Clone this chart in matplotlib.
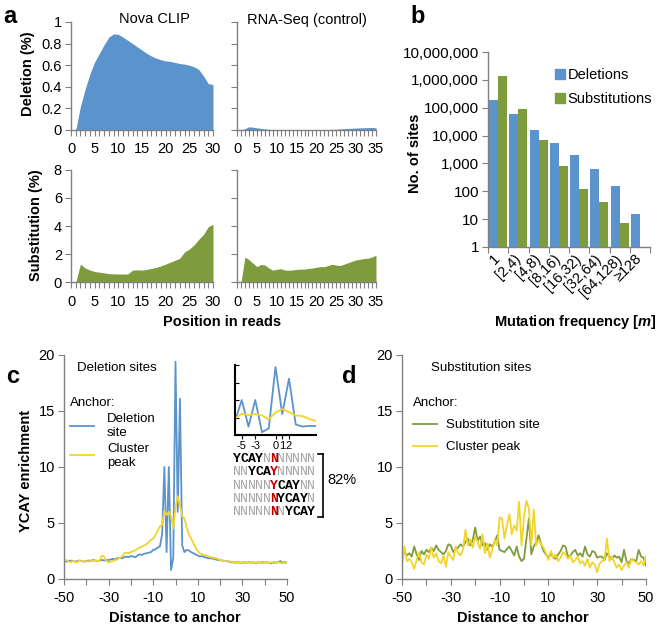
import numpy as np
import matplotlib.pyplot as plt
from matplotlib.lines import Line2D
from matplotlib.patches import Patch
from matplotlib.ticker import MultipleLocator, FixedLocator, FuncFormatter, NullLocator

plt.rcParams['font.family'] = ['Liberation Sans', 'DejaVu Sans']
plt.rcParams['axes.unicode_minus'] = False
plt.rcParams['mathtext.fontset'] = 'custom'
plt.rcParams['mathtext.it'] = 'Liberation Sans:bold:italic'
plt.rcParams['mathtext.rm'] = 'Liberation Sans:bold'

# panel a: mutation rate along the read
nova_pos = list(range(1, 31))
nova_del = [0, 0.22, 0.38, 0.52, 0.63, 0.71, 0.79, 0.86, 0.89, 0.885,
            0.86, 0.83, 0.80, 0.77, 0.74, 0.71, 0.685, 0.665, 0.65, 0.64,
            0.635, 0.625, 0.615, 0.61, 0.60, 0.585, 0.56, 0.50, 0.43, 0.42]
nova_sub = [0, 1.28, 1.0, 0.85, 0.75, 0.7, 0.65, 0.6, 0.58, 0.57,
            0.57, 0.57, 0.85, 0.87, 0.85, 0.9, 0.97, 1.05, 1.15, 1.28,
            1.42, 1.55, 1.7, 2.15, 2.35, 2.65, 3.05, 3.4, 3.95, 4.12]
rna_pos = list(range(1, 36))
rna_del = [0, 0.012, 0.03, 0.026, 0.02, 0.015, 0.01, 0.006, 0.004, 0.003,
           0.003, 0.003, 0.003, 0.003, 0.003, 0.003, 0.003, 0.003, 0.003, 0.003,
           0.003, 0.003, 0.004, 0.005, 0.007, 0.01, 0.012, 0.014, 0.016, 0.018,
           0.02, 0.021, 0.022, 0.024, 0.02]
rna_sub = [0, 1.78, 1.6, 1.35, 1.1, 1.25, 1.22, 1.0, 0.85, 0.9,
           0.95, 0.86, 0.84, 0.86, 0.9, 0.92, 0.92, 0.97, 1.0, 1.05,
           1.1, 1.1, 1.18, 1.27, 1.2, 1.18, 1.28, 1.38, 1.48, 1.58,
           1.62, 1.68, 1.7, 1.78, 1.92]

# panel b: number of sites per mutation frequency bin
freq_bins = ['1', '[2,4)', '[4,8)', '[8,16)', '[16,32)', '[32,64)', '[64,128)', '\u2265128']
del_sites = [190000, 60000, 16500, 5600, 1950, 630, 155, 15.6]
sub_sites = [1430000, 87000, 7200, 780, 118, 41, 7.2, np.nan]

# panels c, d: YCAY enrichment around anchor
dist = list(range(-50, 51))
del_site = [1.6, 1.55, 1.6, 1.65, 1.6, 1.55, 1.6, 1.65, 1.6, 1.55,
            1.6, 1.65, 1.6, 1.7, 1.65, 1.6, 1.65, 1.7, 1.65, 1.7,
            1.7, 1.75, 1.8, 1.75, 1.85, 1.9, 1.85, 1.95, 2.0, 1.95,
            2.05, 2.0, 1.95, 2.1, 2.2, 2.15, 2.25, 2.3, 2.35, 2.4,
            2.6, 2.65, 2.8, 2.9, 4.0, 10.0, 2.4, 10.0, 0.8, 1.9,
            19.4,
            6.0, 16.1, 3.0, 2.4, 2.6, 2.55, 2.4, 2.3, 2.2, 2.1,
            2.0, 2.05, 1.95, 1.9, 1.85, 1.85, 1.8, 1.75, 1.7, 1.7,
            1.65, 1.6, 1.6, 1.55, 1.5, 1.5, 1.45, 1.5, 1.45, 1.45,
            1.5, 1.45, 1.5, 1.45, 1.5, 1.4, 1.5, 1.45, 1.5, 1.45,
            1.5, 1.45, 1.4, 1.5, 1.45, 1.5, 1.6, 1.45, 1.5, 1.45]
peak_c = [1.6, 1.7, 1.55, 1.5, 1.6, 1.55, 1.5, 1.65, 1.6, 1.55,
          1.6, 1.55, 1.65, 1.6, 1.7, 1.6, 1.65, 2.1, 2.0, 1.6,
          1.5, 1.55, 1.6, 1.7, 1.75, 1.9, 2.0, 2.3, 2.35, 2.3,
          2.4, 2.5, 2.55, 2.7, 2.8, 2.9, 3.0, 3.1, 3.3, 3.5,
          3.6, 3.9, 4.3, 4.7, 4.8, 6.1, 5.7, 6.0, 5.6, 4.5,
          6.4,
          7.4, 6.6, 5.6, 5.4, 4.6, 4.0, 3.6, 3.2, 2.8, 2.5,
          2.3, 2.2, 2.15, 2.1, 2.0, 1.95, 1.9, 1.85, 1.8, 1.7,
          1.65, 1.6, 1.6, 1.55, 1.55, 1.5, 1.5, 1.5, 1.45, 1.5,
          1.5, 1.45, 1.5, 1.4, 1.5, 1.45, 1.5, 1.45, 1.4, 1.45,
          1.5, 1.45, 1.5, 1.4, 1.45, 1.5, 1.45, 1.4, 1.45, 1.4]
sub_site = [1.9, 2.4, 2.1, 2.3, 2.0, 2.9, 2.2, 1.7, 2.5, 2.2,
            2.6, 2.4, 2.8, 2.5, 3.0, 2.6, 2.4, 2.2, 2.5, 3.1,
            3.0, 2.4, 2.7, 2.8, 3.1, 2.9, 3.3, 3.6, 3.0, 3.5,
            4.6, 3.4, 3.8, 3.0, 3.2, 2.6, 3.1, 2.9, 3.3, 3.9,
            2.6, 2.5, 2.4, 2.7, 2.9, 2.5, 2.1, 2.9, 2.0, 1.6,
            1.8,
            3.6, 5.4, 2.2, 2.9, 3.3, 3.9, 3.1, 2.5, 2.2, 1.9,
            2.3, 1.9, 1.8, 2.2, 2.5, 3.0, 2.9, 2.0, 2.1, 2.4,
            2.6, 2.1, 2.3, 2.0, 2.9, 2.2, 2.0, 2.5, 2.4, 1.9,
            2.0, 2.0, 1.7, 2.3, 2.0, 1.8, 2.1, 1.9, 2.0, 1.5,
            2.6, 1.6, 1.4, 1.8, 1.7, 1.6, 2.6, 2.0, 1.9, 1.2]
peak_d = [1.2, 2.9, 1.6, 1.8, 1.5, 0.9, 1.7, 2.4, 1.5, 1.3,
          2.2, 1.8, 2.8, 1.9, 2.3, 1.6, 1.4, 2.1, 1.1, 2.4,
          2.0, 1.7, 2.9, 2.3, 2.1, 2.6, 4.4, 3.0, 3.5, 2.8,
          3.8, 3.3, 2.7, 4.0, 2.3, 3.2, 1.9, 2.6, 3.5, 3.0,
          5.5, 5.4, 3.6, 4.8, 5.8, 4.0, 4.8, 4.3, 6.9, 3.0,
          5.6,
          7.0, 6.3, 3.0, 6.2, 3.0, 3.5, 3.1, 2.8, 2.3, 1.7,
          2.5, 1.9, 2.2, 1.6, 1.9, 2.4, 2.2, 1.8, 2.1, 1.5,
          1.7, 2.0, 1.4, 1.6, 1.2, 1.8, 1.0, 1.5, 1.3, 0.6,
          1.4, 1.6, 1.8, 3.6, 1.6, 2.0, 1.5, 1.0, 1.3, 0.8,
          1.2, 1.5, 1.0, 1.8, 1.6, 1.5, 1.3, 1.6, 1.2, 2.1]
motif_offsets = [-5, -3, 0, 1, 2]   # YCAY start relative to anchor (inset ticks)

BLUE = '#5b93cc'
GREEN = '#7e9c3e'
YELLOW = '#f2d42a'
GRAY = '#808080'

W, H = 662, 630
fig = plt.figure(figsize=(W / 100, H / 100), dpi=100)


def box(l, t, r, b):
    return [l / W, 1 - b / H, (r - l) / W, (b - t) / H]


def px(x, y):
    return (x / W, 1 - y / H)


def style(ax, color=GRAY, size=10.5):
    for s in ('top', 'right'):
        ax.spines[s].set_visible(False)
    for s in ('left', 'bottom'):
        ax.spines[s].set_color(color)
        ax.spines[s].set_linewidth(1)
    ax.tick_params(which='both', direction='out', color=color, length=4,
                   width=0.8, labelsize=size, pad=2.5)


# ---- panel a ----
def area_panel(rect, pos, vals, xmax, ymax, ystep, color, labels):
    ax = fig.add_axes(box(*rect))
    ax.fill_between(pos, vals, color=color, lw=0)
    ax.set_xlim(0, xmax)
    ax.set_ylim(0, ymax)
    ax.xaxis.set_major_locator(MultipleLocator(5))
    ax.xaxis.set_minor_locator(MultipleLocator(1))
    ax.yaxis.set_major_locator(MultipleLocator(ystep))
    ax.yaxis.set_major_formatter(FuncFormatter(lambda v, p: f'{v:g}'))
    style(ax)
    ax.tick_params(axis='x', pad=5)
    if not labels:
        ax.tick_params(labelleft=False)
    return ax


area_panel((71, 22, 213, 130), nova_pos, nova_del, 30, 1, 0.2, BLUE, True)
area_panel((237, 22, 376, 130), rna_pos, rna_del, 35, 1, 0.2, BLUE, False)
area_panel((71, 170, 213, 282), nova_pos, nova_sub, 30, 8, 2, GREEN, True)
area_panel((237, 170, 376, 282), rna_pos, rna_sub, 35, 8, 2, GREEN, False)

fig.text(*px(154, 19), 'Nova CLIP', ha='center', va='center', fontsize=10.5)
fig.text(*px(307, 20), 'RNA-Seq (control)', ha='center', va='center', fontsize=10.5)
fig.text(*px(28, 74), 'Deletion (%)', rotation=90, ha='center', va='center',
         fontsize=10.5, fontweight='bold')
fig.text(*px(36, 225), 'Substitution (%)', rotation=90, ha='center', va='center',
         fontsize=10.5, fontweight='bold')
fig.text(*px(222, 322), 'Position in reads', ha='center', va='center',
         fontsize=10.5, fontweight='bold')

# ---- panel b ----
axb = fig.add_axes(box(488, 52, 650, 247))
xb = np.arange(len(freq_bins))
axb.bar(xb - 0.225, del_sites, width=0.45, color=BLUE, label='Deletions')
axb.bar(xb + 0.225, sub_sites, width=0.45, color=GREEN, label='Substitutions')
axb.set_yscale('log')
axb.set_ylim(1, 1e7)
axb.set_xlim(-0.5, len(freq_bins) - 0.5)
axb.yaxis.set_major_locator(FixedLocator([10 ** k for k in range(8)]))
axb.yaxis.set_minor_locator(NullLocator())
axb.yaxis.set_major_formatter(FuncFormatter(lambda v, p: f'{v:,.0f}'))
style(axb, size=11)
axb.set_xticks(xb)
axb.set_xticklabels(freq_bins, rotation=45, ha='right', va='center',
                    rotation_mode='anchor')
axb.xaxis.set_minor_locator(FixedLocator(np.arange(-0.5, len(freq_bins), 1)))
axb.tick_params(axis='x', which='major', length=0, pad=7, labelsize=10.5)
axb.legend(handles=[Patch(color=BLUE), Patch(color=GREEN)],
           labels=['Deletions', 'Substitutions'], loc='upper left',
           bbox_to_anchor=px(555, 68), bbox_transform=fig.transFigure,
           frameon=False, fontsize=10.5, handlelength=0.7, handleheight=0.7,
           handletextpad=0.15, labelspacing=0.7, borderpad=0, borderaxespad=0)
fig.text(*px(415, 153), 'No. of sites', rotation=90, ha='center', va='center',
         fontsize=10.5, fontweight='bold')
fig.text(*px(575, 322), 'Mutation frequency [$m$]', ha='center', va='center',
         fontsize=10.5, fontweight='bold')


# ---- panels c and d ----
def enrich_axes(rect):
    ax = fig.add_axes(box(*rect))
    ax.set_xlim(-50, 50)
    ax.set_ylim(0, 20)
    ax.xaxis.set_major_locator(FixedLocator([-50, -30, -10, 10, 30, 50]))
    ax.xaxis.set_minor_locator(FixedLocator([-40, -20, 0, 20, 40]))
    ax.yaxis.set_major_locator(MultipleLocator(5))
    style(ax)
    ax.tick_params(axis='x', pad=5)
    return ax


axc = enrich_axes((64, 355, 287, 579))
axc.plot(dist, del_site, color=BLUE, lw=1.3, label='Deletion\nsite')
axc.plot(dist, peak_c, color=YELLOW, lw=1.3, label='Cluster\npeak')
axc.legend(loc='upper left', bbox_to_anchor=px(70, 397), bbox_transform=fig.transFigure,
           frameon=False, title='Anchor:', alignment='left', fontsize=9.5,
           title_fontsize=9.5, handlelength=1.8, handletextpad=1.0,
           labelspacing=0.3, borderpad=0, borderaxespad=0)
fig.text(*px(77, 368), 'Deletion sites', ha='left', va='center', fontsize=9.5)
fig.text(*px(26, 471), 'YCAY enrichment', rotation=90, ha='center', va='center',
         fontsize=10.5, fontweight='bold')
fig.text(*px(175, 618), 'Distance to anchor', ha='center', va='center',
         fontsize=10.5, fontweight='bold')

# inset: zoom into the anchor region
axi = fig.add_axes(box(235, 365, 316, 435))
axi.plot(dist, del_site, color=BLUE, lw=1.3)
axi.plot(dist, peak_c, color=YELLOW, lw=1.3)
axi.set_xlim(-6, 6)
axi.set_ylim(0, 20)
for s in ('top', 'right'):
    axi.spines[s].set_visible(False)
for s in ('left', 'bottom'):
    axi.spines[s].set_linewidth(1.5)
axi.yaxis.set_major_locator(MultipleLocator(5))
axi.tick_params(axis='y', direction='in', length=3, labelleft=False)
axi.xaxis.set_major_locator(FixedLocator(motif_offsets))
axi.xaxis.set_major_formatter(FuncFormatter(lambda v, p: f'{v:g}'))
axi.tick_params(axis='x', direction='out', length=3, labelsize=8, pad=1)

# aligned YCAY motifs, anchor position in red
n_left, n_right = 5, 5
for r, off in enumerate(motif_offsets):
    yrow = 459 + 13.3 * r
    for i in range(n_left + n_right + 1):
        rel = i - n_left
        in_motif = off <= rel < off + 4
        ch = 'YCAY'[rel - off] if in_motif else 'N'
        if rel == 0:
            col, wt = '#c00000', 'bold'
        elif in_motif:
            col, wt = 'black', 'bold'
        else:
            col, wt = '#a6a6a6', 'normal'
        fig.text(*px(233 + 7.45 * (i + 0.5), yrow), ch, ha='center', va='center',
                 fontsize=9.5, family='Liberation Mono', color=col, fontweight=wt)

bx, by0, by1 = 323, 454, 517
for seg in (([bx - 5, bx], [by0, by0]), ([bx, bx], [by0, by1]), ([bx - 5, bx], [by1, by1])):
    fig.add_artist(Line2D([v / W for v in seg[0]], [1 - v / H for v in seg[1]],
                          transform=fig.transFigure, color='black', lw=1.2))
fig.text(*px(327, 480), '82%', ha='left', va='center', fontsize=10.5)

axd = enrich_axes((402, 355, 646, 579))
axd.plot(dist, sub_site, color=GREEN, lw=1.3, label='Substitution site')
axd.plot(dist, peak_d, color=YELLOW, lw=1.3, label='Cluster peak')
axd.legend(loc='upper left', bbox_to_anchor=px(413, 397), bbox_transform=fig.transFigure,
           frameon=False, title='Anchor:', alignment='left', fontsize=9.5,
           title_fontsize=9.5, handlelength=1.8, handletextpad=0.7,
           labelspacing=0.75, borderpad=0, borderaxespad=0)
fig.text(*px(481, 368), 'Substitution sites', ha='center', va='center', fontsize=9.5)
fig.text(*px(523, 618), 'Distance to anchor', ha='center', va='center',
         fontsize=10.5, fontweight='bold')

# panel letters
for letter, (lx, ly) in zip('abcd', [(3, 23), (410, 23), (6, 383), (342, 383)]):
    fig.text(*px(lx, ly), letter, ha='left', va='baseline', fontsize=17, fontweight='bold')

fig.savefig('out.png', dpi=100)
